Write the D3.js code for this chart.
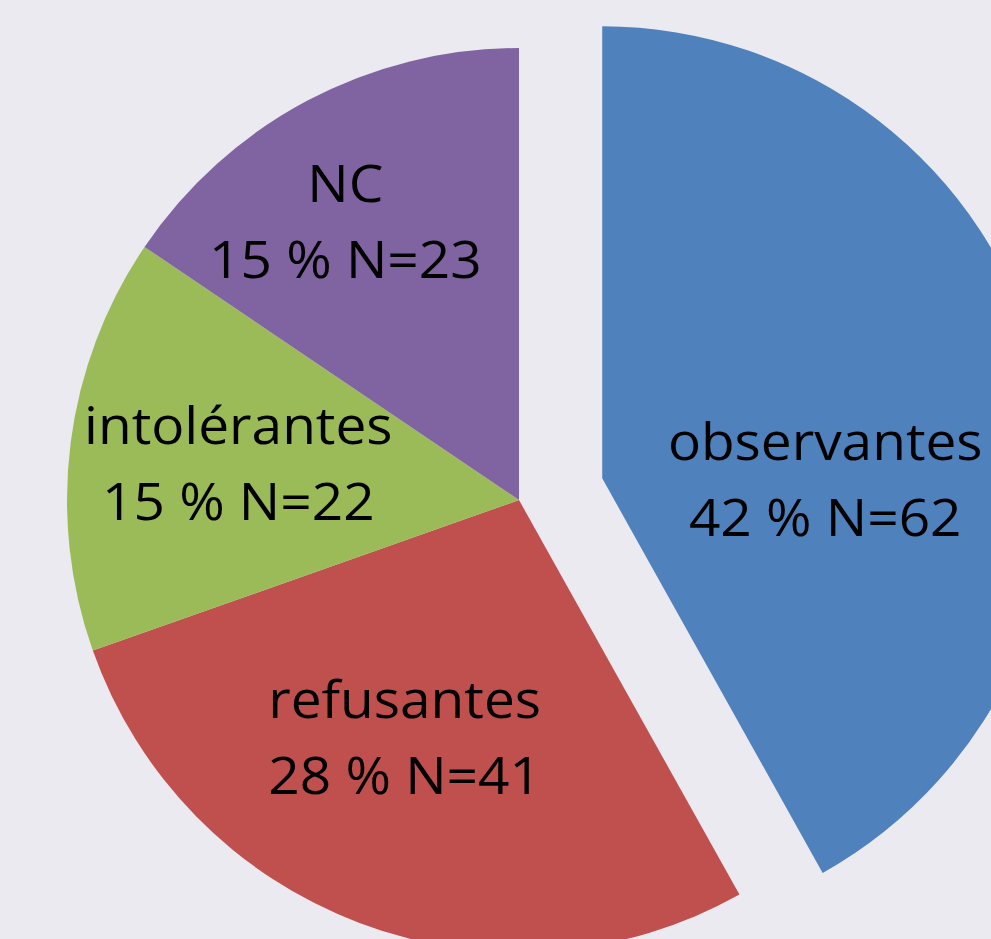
<!DOCTYPE html>
<html>
<head>
<meta charset="utf-8">
<script src="https://cdn.jsdelivr.net/npm/d3@7"></script>
<style>
  html, body { margin: 0; padding: 0; background: #ECEAF1; overflow: hidden; }
  svg { display: block; }
</style>
</head>
<body>
<script>
// Data
const categories = ["observantes", "refusantes", "intolérantes", "NC"];
const counts = [62, 41, 22, 23];
const percentLabels = ["42 %", "28 %", "15 %", "15 %"];
const colors = ["#4F81BD", "#C0504D", "#9BBB59", "#8064A2"];

const SVG_WIDTH = 991, SVG_HEIGHT = 939;
const CX = 519, CY = 500, RADIUS = 452;
const EXPLODE = 86;   // first slice is pulled out
const TEXT_SQUASH = 0.92; // font is a bit narrower/taller than the original
// label placement (radius, angle tweak in degrees) per slice, like Excel's best fit
const labelLayout = [
  {r: 223, da: 15},
  {r: 264, da: 5},
  {r: 283, da: 0},
  {r: 328, da: -4}
];

let svg = null, pie = null, arc = null, arcs = null;

// Main Process
appendSvg("body");
setupPie();
appendSlices();
appendLabels();

function appendSvg(domElement) {
  svg = d3.select(domElement).append("svg")
      .attr("width", SVG_WIDTH)
      .attr("height", SVG_HEIGHT)
      .append("g")
      .attr("transform", `translate(${CX}, ${CY})`);
}

function setupPie() {
  pie = d3.pie().sort(null).value(d => d);
  arc = d3.arc().innerRadius(0).outerRadius(RADIUS);
  arcs = pie(counts);
}

function offsetFor(d, i) {
  if (i !== 0) return [0, 0];
  const mid = (d.startAngle + d.endAngle) / 2;
  return [EXPLODE * Math.sin(mid), -EXPLODE * Math.cos(mid)];
}

function appendSlices() {
  svg.selectAll("path.slice")
      .data(arcs)
      .enter().append("path")
      .attr("class", "slice")
      .attr("d", arc)
      .attr("fill", (d, i) => colors[i])
      .attr("transform", (d, i) => `translate(${offsetFor(d, i)})`);
}

function appendLabels() {
  const g = svg.selectAll("g.label")
      .data(arcs)
      .enter().append("g")
      .attr("class", "label")
      .attr("transform", (d, i) => {
        const off = offsetFor(d, i);
        const a = (d.startAngle + d.endAngle) / 2 + labelLayout[i].da * Math.PI / 180;
        const r = labelLayout[i].r;
        return `translate(${off[0] + r * Math.sin(a)}, ${off[1] - r * Math.cos(a)})`;
      });

  const text = g.append("text")
      .attr("text-anchor", "middle")
      .attr("transform", `scale(1, ${TEXT_SQUASH})`)
      .style("font-family", "'Open Sans', sans-serif")
      .style("font-size", "55px")
      .attr("fill", "#000");

  text.append("tspan")
      .attr("x", 0)
      .attr("y", -20 / TEXT_SQUASH)
      .text((d, i) => categories[i]);

  text.append("tspan")
      .attr("x", 0)
      .attr("y", 56 / TEXT_SQUASH)
      .text((d, i) => `${percentLabels[i]} N=${counts[i]}`);
}
</script>
</body>
</html>
